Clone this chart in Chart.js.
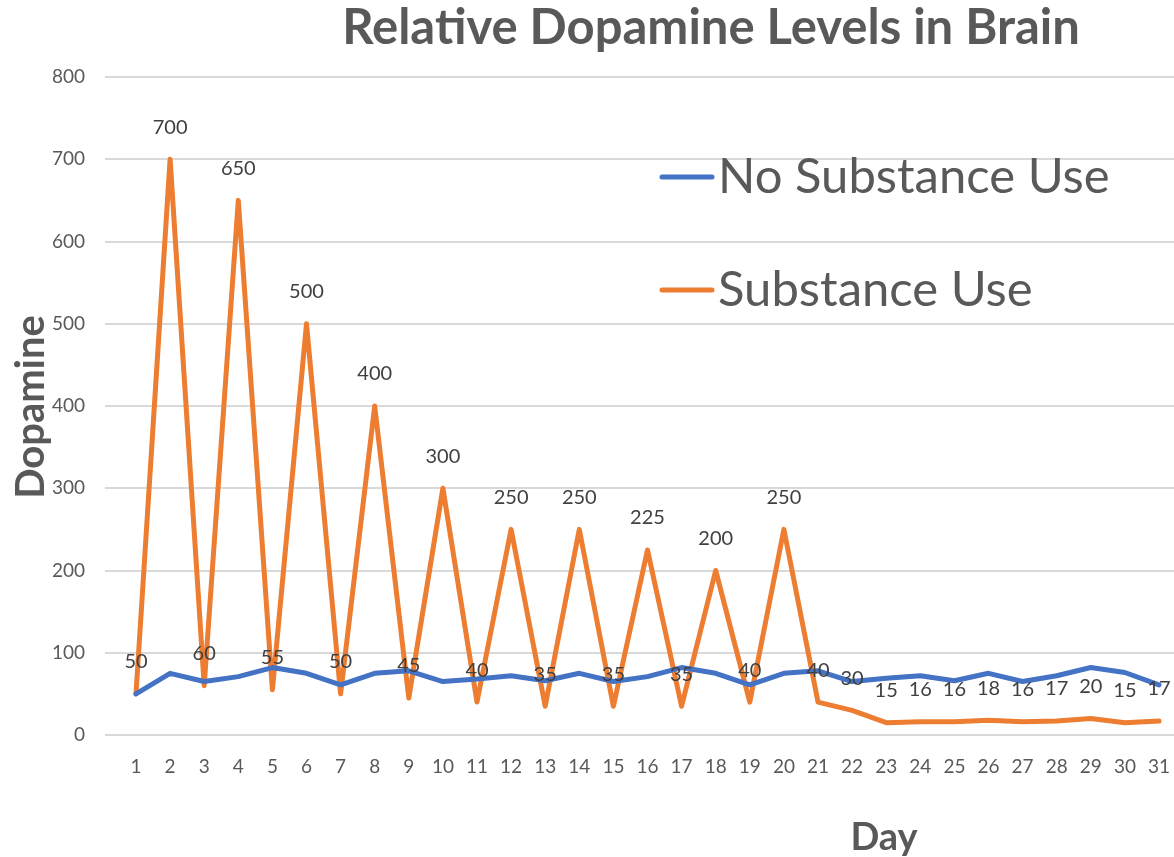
<!DOCTYPE html>
<html>
<head>
<meta charset="utf-8">
<script src="https://cdn.jsdelivr.net/npm/chart.js@4.4.1/dist/chart.umd.min.js"></script>
<style>
  html, body { margin: 0; padding: 0; background: #ffffff; }
  #wrap { width: 1174px; height: 857px; position: relative; }
</style>
</head>
<body>
<div id="wrap"><canvas id="c" width="1174" height="857"></canvas></div>
<script>
const days = [1,2,3,4,5,6,7,8,9,10,11,12,13,14,15,16,17,18,19,20,21,22,23,24,25,26,27,28,29,30,31];
const noSubstance = [50,75,65,71,82,75,61,75,78,65,68,72,66,75,65,71,82,75,61,75,78,65,69,72,66,75,65,72,82,76,61];
const substance = [50,700,60,650,55,500,50,400,45,300,40,250,35,250,35,225,35,200,40,250,40,30,15,16,16,18,16,17,20,15,17];
const yTicks = [0,100,200,300,400,500,600,700,800];
const seriesNames = ['No Substance Use', 'Substance Use'];
const chartTitle = 'Relative Dopamine Levels in Brain';
const xTitle = 'Day';
const yTitle = 'Dopamine';

const FONT = 'Lato, "Open Sans", sans-serif';
const TEXT = '#595959';
const BLUE = '#4472C4';
const ORANGE = '#ED7D31';

const toPts = arr => arr.map((v, i) => ({ x: days[i], y: v }));

const decorPlugin = {
  id: 'decor',
  afterDatasetsDraw(chart) {
    const ctx = chart.ctx;
    const meta = chart.getDatasetMeta(1);
    ctx.save();
    ctx.font = '20px ' + FONT;
    ctx.fillStyle = '#404040';
    ctx.textAlign = 'center';
    ctx.textBaseline = 'middle';
    meta.data.forEach((pt, i) => {
      ctx.fillText(String(substance[i]), pt.x, pt.y - 32);
    });
    ctx.restore();
  },
  afterDraw(chart) {
    const ctx = chart.ctx;
    ctx.save();
    ctx.fillStyle = TEXT;
    ctx.textAlign = 'center';
    ctx.textBaseline = 'middle';
    ctx.font = 'bold 49px ' + FONT;
    ctx.fillText(chartTitle, 711, 28);
    ctx.font = 'bold 38px ' + FONT;
    ctx.fillText(xTitle, 884, 838);
    ctx.save();
    ctx.font = 'bold 40px ' + FONT;
    ctx.translate(31, 407);
    ctx.rotate(-Math.PI / 2);
    ctx.fillText(yTitle, 0, 0);
    ctx.restore();
    const items = [{ name: seriesNames[0], color: BLUE, y: 177 }, { name: seriesNames[1], color: ORANGE, y: 290 }];
    ctx.textAlign = 'left';
    ctx.font = '49px ' + FONT;
    items.forEach(it => {
      ctx.strokeStyle = it.color;
      ctx.lineWidth = 5;
      ctx.lineCap = 'round';
      ctx.beginPath();
      ctx.moveTo(662, it.y);
      ctx.lineTo(712, it.y);
      ctx.stroke();
      ctx.fillStyle = TEXT;
      ctx.fillText(it.name, 718, it.y);
    });
    ctx.restore();
  }
};

new Chart(document.getElementById('c'), {
  type: 'line',
  data: {
    datasets: [
      { label: seriesNames[0], data: toPts(noSubstance), borderColor: BLUE, backgroundColor: BLUE, borderWidth: 5, pointRadius: 0, tension: 0, borderJoinStyle: 'round', borderCapStyle: 'round' },
      { label: seriesNames[1], data: toPts(substance), borderColor: ORANGE, backgroundColor: ORANGE, borderWidth: 5, pointRadius: 0, tension: 0, borderJoinStyle: 'round', borderCapStyle: 'round' }
    ]
  },
  options: {
    responsive: false,
    animation: false,
    layout: { padding: { top: 77, right: 0, left: 0, bottom: 0 } },
    plugins: {
      legend: { display: false },
      title: { display: false },
      tooltip: { enabled: false }
    },
    scales: {
      x: {
        type: 'linear',
        min: 0.091,
        max: 31.44,
        afterBuildTicks: (scale) => { scale.ticks = days.map(d => ({ value: d })); },
        afterFit: (scale) => { scale.height = 122; scale.paddingLeft = 0; scale.paddingRight = 0; },
        grid: { display: false, drawTicks: false },
        border: { display: false },
        ticks: { autoSkip: false, maxRotation: 0, padding: 20, color: TEXT, font: { family: FONT, size: 19 }, callback: (v) => String(v) }
      },
      y: {
        min: 0,
        max: 800,
        afterBuildTicks: (scale) => { scale.ticks = yTicks.map(v => ({ value: v })); },
        afterFit: (scale) => { scale.width = 105; scale.paddingTop = 0; scale.paddingBottom = 0; },
        grid: { color: '#d9d9d9', lineWidth: 2, drawTicks: false },
        border: { display: false },
        ticks: { padding: 20, color: TEXT, font: { family: FONT, size: 19 } }
      }
    }
  },
  plugins: [decorPlugin]
});
</script>
</body>
</html>
